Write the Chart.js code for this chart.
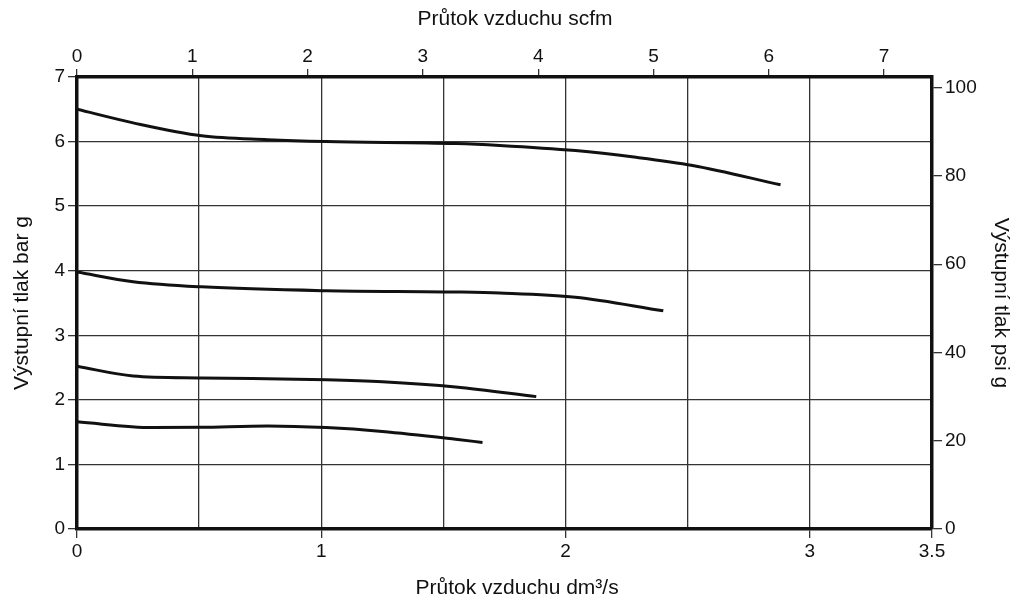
<!DOCTYPE html>
<html>
<head>
<meta charset="utf-8">
<script src="https://cdn.jsdelivr.net/npm/chart.js@4/dist/chart.umd.min.js"></script>
<style>
  html, body { margin: 0; padding: 0; background: #fff; }
  #wrap { width: 1018px; height: 599px; }
</style>
</head>
<body>
<div id="wrap"><canvas id="chart"></canvas></div>
<script>
// Axis ranges and tick labels
const flowMax = 3.5;            // dm3/s
const flowScfmMax = 3.5 * 2.11888;
const pressureMax = 7;          // bar g
const pressurePsiMax = 102.4;   // psi g at the top edge
const flowTickLabels = ['0', '1', '2', '3', '3.5'];

// Curves: flow (dm3/s) and outlet pressure (bar g)
const curve1Flow = [0, 0.23, 0.51, 0.78, 1.02, 1.55, 1.73, 2.04, 2.28, 2.52, 2.88];
const curve1Bar  = [6.5, 6.29, 6.09, 6.03, 6.0, 5.97, 5.94, 5.86, 5.76, 5.63, 5.33];

const curve2Flow = [0, 0.23, 0.51, 1.02, 1.55, 1.73, 2.04, 2.40];
const curve2Bar  = [3.98, 3.83, 3.75, 3.69, 3.67, 3.655, 3.59, 3.38];

const curve3Flow = [0, 0.23, 0.51, 1.02, 1.25, 1.55, 1.88];
const curve3Bar  = [2.52, 2.37, 2.34, 2.31, 2.28, 2.20, 2.05];

const curve4Flow = [0, 0.31, 0.51, 0.78, 1.02, 1.25, 1.55, 1.66];
const curve4Bar  = [1.66, 1.57, 1.575, 1.595, 1.57, 1.51, 1.39, 1.34];

const FONT = '"Liberation Sans", Arial, Helvetica, sans-serif';
const INK = '#111';
const GRID = '#333';

function toPoints(xs, ys) {
    return xs.map((x, i) => ({ x: x, y: ys[i] }));
}

function curve(xs, ys) {
    return {
        data: toPoints(xs, ys),
        borderColor: INK,
        borderWidth: 3,
        pointRadius: 0,
        fill: false,
        cubicInterpolationMode: 'monotone',
        xAxisID: 'x',
        yAxisID: 'y'
    };
}

function isLabeledFlow(v) {
    return flowTickLabels.indexOf(String(v)) !== -1;
}

const tickFont = { family: FONT, size: 19 };
const titleFont = { family: FONT, size: 21, lineHeight: 1 };

new Chart(document.getElementById('chart'), {
    type: 'line',
    data: {
        datasets: [
            curve(curve1Flow, curve1Bar),
            curve(curve2Flow, curve2Bar),
            curve(curve3Flow, curve3Bar),
            curve(curve4Flow, curve4Bar)
        ]
    },
    options: {
        responsive: true,
        maintainAspectRatio: false,
        animation: false,
        layout: { padding: 0 },
        plugins: {
            legend: { display: false },
            tooltip: { enabled: false }
        },
        scales: {
            x: {
                type: 'linear',
                position: 'bottom',
                min: 0,
                max: flowMax,
                afterFit: s => { s.height = 70; },
                ticks: {
                    stepSize: 0.5,
                    autoSkip: false,
                    maxRotation: 0,
                    padding: 2,
                    color: INK,
                    font: tickFont,
                    callback: v => isLabeledFlow(v) ? String(v) : ''
                },
                grid: {
                    color: GRID,
                    lineWidth: 1.3,
                    tickLength: 9,
                    tickColor: ctx => (ctx.tick && isLabeledFlow(ctx.tick.value)) ? GRID : 'rgba(0,0,0,0)'
                },
                border: { color: INK, width: 3.5 },
                title: {
                    display: true,
                    // en spaces nudge the title right, as in the source
                    text: '\u2002\u2002\u2009Průtok vzduchu dm³/s',
                    color: INK,
                    font: titleFont,
                    padding: { top: 0, bottom: 0 }
                }
            },
            x2: {
                type: 'linear',
                position: 'top',
                min: 0,
                max: flowScfmMax,
                afterFit: s => { s.height = 77; },
                ticks: {
                    stepSize: 1,
                    includeBounds: false,
                    autoSkip: false,
                    maxRotation: 0,
                    padding: 1,
                    color: INK,
                    font: tickFont
                },
                grid: {
                    drawOnChartArea: false,
                    color: GRID,
                    lineWidth: 1.3,
                    tickLength: 8
                },
                border: { color: INK, width: 3.5 },
                title: {
                    display: true,
                    text: '\u2002\u2002Průtok vzduchu scfm',
                    color: INK,
                    font: titleFont,
                    padding: { top: 9, bottom: 0 }
                }
            },
            y: {
                type: 'linear',
                position: 'left',
                min: 0,
                max: pressureMax,
                afterFit: s => { s.width = 77; },
                ticks: {
                    stepSize: 1,
                    padding: 3,
                    color: INK,
                    font: tickFont
                },
                grid: {
                    color: GRID,
                    lineWidth: 1.3,
                    tickLength: 9
                },
                border: { color: INK, width: 3.5 },
                title: {
                    display: true,
                    text: 'Výstupní tlak bar g',
                    color: INK,
                    font: titleFont,
                    padding: { top: 12, bottom: 0 }
                }
            },
            y2: {
                type: 'linear',
                position: 'right',
                min: 0,
                max: pressurePsiMax,
                afterFit: s => { s.width = 86; },
                ticks: {
                    stepSize: 20,
                    includeBounds: false,
                    padding: 3,
                    color: INK,
                    font: tickFont
                },
                grid: {
                    drawOnChartArea: false,
                    color: GRID,
                    lineWidth: 1.3,
                    tickLength: 10
                },
                border: { color: INK, width: 3.5 },
                title: {
                    display: true,
                    text: 'Výstupní tlak psi g',
                    color: INK,
                    font: titleFont,
                    padding: { top: 7, bottom: 0 }
                }
            }
        }
    }
});
</script>
</body>
</html>
